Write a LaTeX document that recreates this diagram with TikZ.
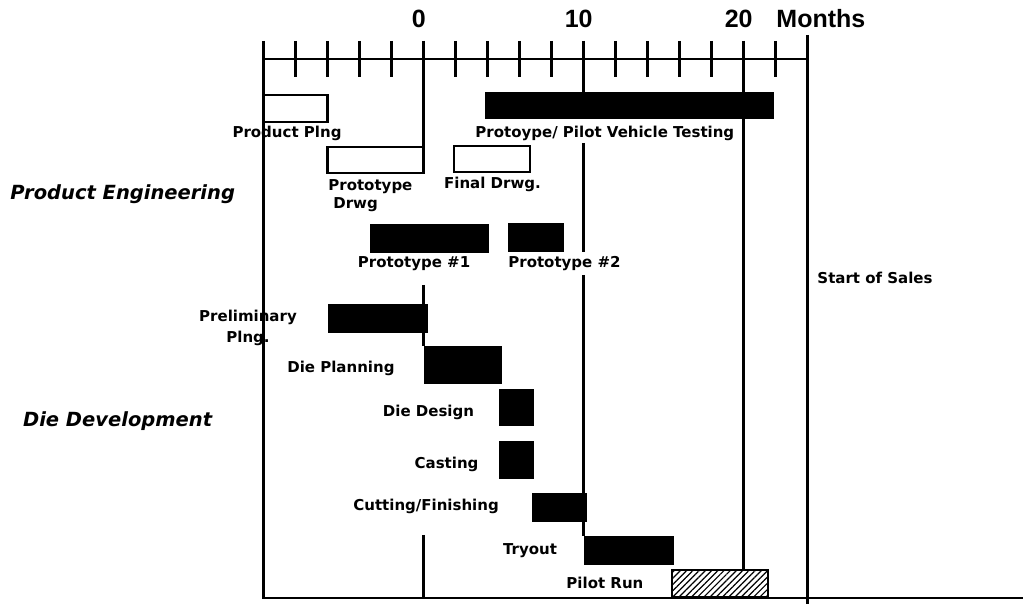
\documentclass[tikz,border=0pt]{standalone}
\usepackage{fontspec}
\setmainfont{Liberation Sans}
\newfontfamily\chartfont{DejaVu Sans}[BoldFont={DejaVu Sans Bold},BoldItalicFont={DejaVu Sans Bold Oblique}]
\usetikzlibrary{patterns.meta}

\newcommand*{\xmin}{-10}
\newcommand*{\xmax}{24}
\newcommand*{\yaxis}{59}
\newcommand*{\ybot}{598}

\begin{document}
\begin{tikzpicture}
[
	x=8pt,
	y=-0.5pt,
	lines/.style={line width=1.2pt},
	openbar/.style={draw,line width=1.2pt,fill=white},
	solidbar/.style={fill=black},
	hatchbar/.style={draw,line width=1.2pt,pattern={Lines[angle=45,distance=2.2pt,line width=0.6pt]}},
	lbl/.style={font=\chartfont\bfseries\fontsize{7.5}{9.25}\selectfont,inner sep=0pt,anchor=base},
	grouplbl/.style={font=\chartfont\bfseries\itshape\fontsize{9.75}{12}\selectfont,inner sep=0pt,anchor=base west},
	scalelbl/.style={font=\bfseries\fontsize{12.5}{15}\selectfont,inner sep=0pt,anchor=base}
]
	\useasboundingbox (-26.47,0) rectangle (37.47,604);

	% time scale
	\draw[lines] (\xmin,\yaxis) -- (\xmax,\yaxis);
	\foreach \x in {-8,-6,...,22} {
		\draw[lines] (\x,41) -- (\x,77);
	}
	\foreach \x in {0,10,20} {
		\node[scalelbl] (scale\x) at (\x-0.3,28) {\x};
	}
	\node[scalelbl] (months) at (24.84,28) {Months};

	% frame
	\draw[lines] (\xmin,41) -- (\xmin,\ybot) -- (37.47,\ybot);
	\draw[lines] (\xmax,35) -- (\xmax,604);

	% milestone lines
	\draw[lines] (0,41) -- (0,173);
	\draw[lines] (0,285) -- (0,346);
	\draw[lines] (0,535) -- (0,\ybot);
	\draw[lines] (10,41) -- (10,92);
	\draw[lines] (10,143) -- (10,252);
	\draw[lines] (10,275) -- (10,536);
	\draw[lines] (20,41) -- (20,92);
	\draw[lines] (20,118) -- (20,570);

	% product engineering
	\draw[openbar] (-10,95) rectangle (-6,122);
	\draw[solidbar] (3.85,92) rectangle (21.85,118);
	\draw[openbar] (-6,147) rectangle (0,173);
	\draw[openbar] (1.9,146) rectangle (6.65,172);
	\draw[solidbar] (-3.34,224) rectangle (4.03,252);
	\draw[solidbar] (5.28,223) rectangle (8.72,251);

	\node[lbl] (plng) at (-8.53,138) {Product Plng};
	\node[lbl,anchor=base west] (testing) at (3.22,138) {Protoype/ Pilot Vehicle Testing};
	\node[lbl,anchor=base west,align=left] (protodrwg) at (-5.97,209) {Prototype\\\hspace*{2.5pt}Drwg};
	\node[lbl] (finaldrwg) at (4.31,189) {Final Drwg.};
	\node[lbl] (proto1) at (-0.59,268) {Prototype \#1};
	\node[lbl,anchor=base west] (proto2) at (5.28,268) {Prototype \#2};

	% die development
	\draw[solidbar] (-5.97,304) rectangle (0.22,332);
	\draw[solidbar] (0.03,346) rectangle (4.84,383);
	\draw[solidbar] (4.72,389) rectangle (6.84,425);
	\draw[solidbar] (4.72,441) rectangle (6.9,478);
	\draw[solidbar] (6.78,493) rectangle (10.16,521);
	\draw[solidbar] (10.03,536) rectangle (15.59,564);
	\draw[hatchbar] (15.53,570) rectangle (21.53,597);

	\node[lbl,align=center] (prelim) at (-10.97,343) {Preliminary\\[1.25pt]Plng.};
	\node[lbl] (dieplan) at (-5.16,373) {Die Planning};
	\node[lbl] (diedesign) at (0.31,417) {Die Design};
	\node[lbl] (casting) at (1.44,469) {Casting};
	\node[lbl] (cutting) at (0.16,511) {Cutting/Finishing};
	\node[lbl] (tryout) at (6.66,555) {Tryout};
	\node[lbl] (pilotrun) at (11.34,589) {Pilot Run};

	\node[lbl,anchor=base west] (sales) at (24.6,284) {Start of Sales};

	% groups
	\node[grouplbl] (prodeng) at (-25.84,200) {Product Engineering};
	\node[grouplbl] (diedev) at (-25.05,427) {Die Development};

\end{tikzpicture}
\end{document}
